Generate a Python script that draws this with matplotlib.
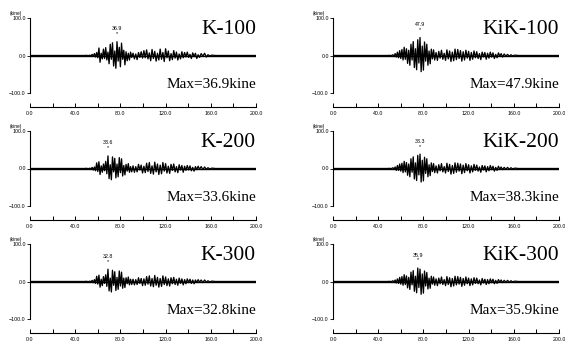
import numpy as np
import matplotlib
matplotlib.use("Agg")
import matplotlib.pyplot as plt

# peak times (s) shared by all records
t_pk = [0, 48, 50, 51.5,
        53, 54, 55, 56, 57, 58, 59, 60, 61, 62, 63, 64, 65, 66, 67, 68, 69,
        70, 71, 72, 73, 74, 75, 76, 77, 78, 79, 80, 81, 82, 83, 84, 85, 86,
        87, 88, 89, 90,
        91.2, 92.4, 93.6, 94.8, 96, 97.2, 98.4, 99.6, 100.8, 102,
        103.2, 104.4, 105.6, 106.8, 108, 109.2, 110.4, 111.6, 112.8, 114,
        115.2, 116.4, 117.6, 118.8, 120, 121.2, 122.4, 123.6, 124.8, 126,
        127.2, 128.4, 129.6, 130.8, 132, 133.2, 134.4, 135.6, 136.8, 138,
        139.2, 140.4, 141.6, 142.8, 144, 145.2, 146.4, 147.6, 148.8, 150,
        151.5, 153, 154.5, 156, 157.5, 159, 161, 164, 200]

# velocity peaks (kine)
k100 = [0, 0, 0.5, -0.5,
        1, -2, 3, -2, 5, -4, 8, -6, 20, -18, 6, -9, 17, -8, 21, -12, 9,
        -22, 30, -10, 34, -28, 12, -34, 36.9, -15, 22, -30, 33, -10, 14, -25, 10, -14,
        6, -12, 9, -5,
        6, -9, 4, -11, 8, -5, 10, -7, 13, -6,
        15, -9, 7, -14, 16, -8, 11, -15, 6, -12,
        17, -10, 8, -16, 18, -6, 12, -14, 5, -11,
        13, -7, 9, -12, 4, -9, 10, -6, 8, -4,
        9, -5, 3, -8, 7, -3, 6, -8, 2, -5,
        5, -2, 6, -4, 2, -1, 1, 0, 0]
k200 = [0, 0, 0.5, -0.5,
        1, -2, 3, -4, 4, -6, 15, -8, 18, -16, 7, -10, 12, -6, 19, -14, 33.6,
        -27, 10, -30, 31, -9, 27, -25, 12, -22, 29, -11, 26, -20, 8, -17, 11, -7,
        13, -10, 5, -9,
        7, -10, 5, -9, 11, -4, 9, -12, 6, -11,
        14, -8, 16, -13, 7, -15, 17, -9, 12, -16,
        9, -14, 16, -7, 13, -12, 6, -13, 11, -5,
        12, -9, 5, -11, 10, -4, 8, -10, 6, -5,
        8, -4, 7, -6, 3, -7, 5, -3, 6, -2,
        5, -3, 4, -2, 2, -1, 1, 0, 0]
k300 = [0, 0, 0.5, -0.5,
        1, -1, 3, -3, 5, -5, 14, -7, 17, -15, 6, -11, 13, -5, 18, -13, 32.8,
        -25, 9, -28, 30, -10, 26, -24, 11, -21, 28, -12, 25, -18, 9, -16, 10, -6,
        12, -9, 6, -8,
        6, -9, 5, -8, 10, -5, 8, -11, 7, -10,
        13, -7, 15, -12, 8, -14, 16, -10, 11, -15,
        8, -13, 15, -8, 12, -11, 7, -12, 10, -6,
        11, -8, 6, -10, 9, -5, 7, -9, 5, -6,
        7, -3, 6, -5, 4, -6, 4, -3, 5, -2,
        4, -3, 4, -2, 2, -1, 1, 0, 0]
kik100 = [0, 0, 0.5, -0.5,
          2, -3, 5, -4, 9, -6, 13, -8, 16, -12, 22, -10, 18, -21, 14, -26, 30,
          -12, 37, -32, 18, -38, 42, -20, 47.9, -43, 25, -39, 36, -15, 30, -26, 12, -22,
          17, -9, 15, -12,
          8, -13, 11, -7, 14, -10, 6, -13, 15, -9,
          12, -16, 9, -14, 17, -11, 16, -8, 13, -15,
          10, -12, 14, -7, 11, -13, 8, -10, 12, -6,
          10, -8, 5, -11, 9, -4, 8, -10, 6, -7,
          9, -4, 7, -8, 3, -6, 7, -2, 5, -4,
          4, -2, 3, -2, 2, -1, 1, 0, 0]
kik200 = [0, 0, 0.5, -0.5,
          2, -2, 4, -5, 8, -5, 12, -7, 14, -11, 19, -9, 16, -18, 12, -22, 26,
          -10, 31, -28, 15, -32, 35, -17, 38.3, -36, 22, -33, 30, -13, 26, -22, 10, -19,
          15, -8, 13, -11,
          7, -12, 10, -6, 13, -9, 5, -12, 14, -8,
          11, -15, 8, -13, 15, -10, 14, -7, 12, -14,
          9, -11, 13, -6, 10, -12, 7, -9, 11, -5,
          9, -7, 4, -10, 8, -4, 7, -9, 5, -6,
          8, -3, 6, -7, 3, -5, 6, -2, 4, -3,
          3, -2, 3, -2, 2, -1, 1, 0, 0]
kik300 = [0, 0, 0.5, -0.5,
          2, -2, 4, -4, 7, -5, 11, -7, 13, -10, 18, -8, 15, -17, 11, -21, 25,
          -9, 29, -26, 14, -30, 35.9, -16, 33, -34, 20, -31, 28, -12, 24, -20, 9, -18,
          14, -7, 12, -10,
          7, -11, 9, -6, 12, -8, 5, -11, 13, -8,
          10, -14, 8, -12, 14, -9, 13, -7, 11, -13,
          8, -10, 12, -6, 9, -11, 7, -9, 10, -5,
          9, -6, 4, -9, 8, -4, 6, -8, 5, -6,
          7, -3, 6, -6, 3, -5, 5, -2, 4, -3,
          3, -2, 3, -2, 2, -1, 1, 0, 0]

names = [["K-100", "KiK-100"], ["K-200", "KiK-200"], ["K-300", "KiK-300"]]
series = [[k100, kik100], [k200, kik200], [k300, kik300]]
x_ticks = [0, 20, 40, 60, 80, 100, 120, 140, 160, 180, 200]
y_ticks = [-100, 0, 100]

W, H = 565, 345
fig = plt.figure(figsize=(W / 100, H / 100), dpi=100)

col_left = [30, 333]
row_top = [18, 131, 244]
ax_w = 226
ylo = -138
ax_h = 75 * (100 - ylo) / 200

tick_font = dict(family="Liberation Sans", size=3.8)

for r in range(3):
    for c in range(2):
        ax = fig.add_axes([col_left[c] / W, 1 - (row_top[r] + ax_h) / H,
                           ax_w / W, ax_h / H])
        v = np.array(series[r][c])
        ax.hlines(0, 0, 200, color="k", lw=1.0)
        ax.plot(t_pk, v, color="k", lw=0.95)
        ax.set_xlim(0, 200)
        ax.set_ylim(ylo, 100)
        for s in ["top", "right"]:
            ax.spines[s].set_visible(False)
        ax.spines["left"].set_bounds(-100, 100)
        ax.spines["left"].set_linewidth(0.8)
        ax.spines["bottom"].set_linewidth(0.8)
        ax.set_xticks(x_ticks)
        ax.set_xticklabels(["%.1f" % x if x % 40 == 0 else "" for x in x_ticks],
                           fontdict=tick_font)
        ax.set_yticks(y_ticks)
        ax.set_yticklabels(["\u2212100.0", "0.0", "100.0"], fontdict=tick_font)
        ax.tick_params(axis="x", direction="in", length=3, width=0.7, pad=2.5)
        ax.tick_params(axis="y", direction="out", length=2, width=0.6, pad=1)
        ax.text(-0.088, 1.056, "(kine)", transform=ax.transAxes,
                ha="left", va="center", family="Liberation Sans", size=3.5)

        # peak marker
        i = int(np.argmax(np.abs(v)))
        pk = v[i]
        ax.annotate("*", xy=(t_pk[i], pk), xytext=(0, 4), textcoords="offset points",
                    ha="center", va="bottom", fontsize=4, family="Liberation Sans")
        ax.annotate("%.1f" % pk, xy=(t_pk[i], pk), xytext=(0, 7.5),
                    textcoords="offset points", ha="center", va="bottom",
                    **tick_font)

        ax.text(1.0, 0.817, names[r][c], transform=ax.transAxes, ha="right",
                va="baseline", family="Liberation Serif", fontsize=15.5)
        ax.text(1.0, 0.219, "Max=%.1fkine" % pk, transform=ax.transAxes, ha="right",
                va="baseline", family="Liberation Serif", fontsize=11)

fig.savefig("out.png", dpi=100)
